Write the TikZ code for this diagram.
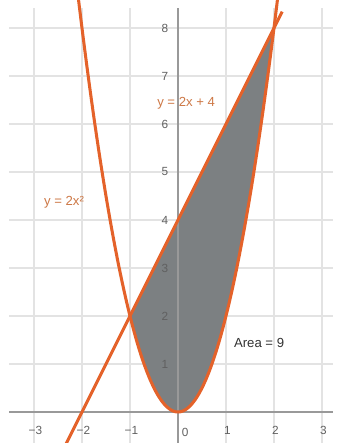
\documentclass[tikz,border=0pt]{standalone}
\usepackage{fontspec}
\setmainfont{Liberation Sans}
\definecolor{curveorange}{RGB}{228,98,42}
\definecolor{fillgray}{RGB}{124,128,130}
\definecolor{lblorange}{RGB}{205,120,70}
\begin{document}
\begin{tikzpicture}[x=1cm,y=1cm,
  gridline/.style={draw=gray!22,line width=0.9pt},
  axisline/.style={draw=gray!80,line width=1.4pt},
  curve/.style={draw=curveorange,line width=1.8pt,line join=round},
  tick/.style={font=\fontsize{7}{8}\selectfont,text=gray!75!black,inner sep=1pt},
  lbl/.style={font=\fontsize{7.8}{9}\selectfont,inner sep=1pt}]
\useasboundingbox (-3.708,-0.646) rectangle (3.354,8.583);
\clip (-3.708,-0.646) rectangle (3.354,8.583);
% grid
\foreach \x in {-3,...,3} \draw[gridline] (\x,-0.646) -- (\x,8.42);
\foreach \y in {1,...,8} \draw[gridline] (-3.52,\y) -- (3.23,\y);
% shaded area
\fill[fillgray] plot[domain=-1:2,samples=80] (\x,{2*\x*\x}) -- cycle;
% axes
\draw[axisline] (-3.52,0) -- (3.23,0);
\draw[axisline] (0,-0.646) -- (0,8.42);
% curves
\draw[curve] plot[domain=-2.12:2.1,samples=120] (\x,{2*\x*\x});
\draw[curve] plot[domain=-2.4:2.17,samples=2] (\x,{2*\x+4});
% tick labels
\foreach \x/\t in {-3/−3,-2/−2,-1/−1,1/1,2/2,3/3} \node[tick] (xt\x) at (\x+0.03,-0.38) {\t};
\node[tick] (xt0) at (0.15,-0.42) {0};
\foreach \y in {1,...,8} \node[tick] (yt\y) at (-0.27,\y) {\y};
% labels
\node[lbl,text=lblorange] (lline) at (0.17,6.44) {y = 2x + 4};
\node[lbl,text=lblorange] (lpar) at (-2.375,4.375) {y = 2x²};
\node[lbl,text=black!80] (larea) at (1.69,1.44) {Area = 9};
\end{tikzpicture}
\end{document}
